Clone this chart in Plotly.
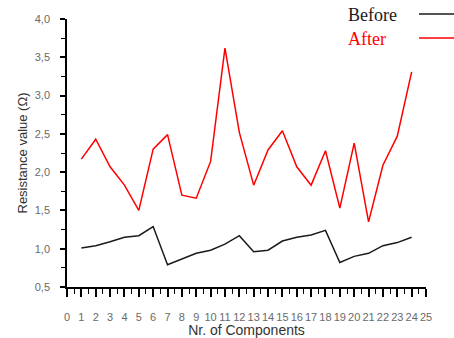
import plotly.graph_objects as go

# Component numbers and measured resistance (Ω) before / after treatment
components = list(range(1, 25))
before = [1.01, 1.04, 1.09, 1.15, 1.17, 1.29, 0.79, 0.86, 0.94, 0.98, 1.06, 1.17,
          0.96, 0.98, 1.10, 1.15, 1.18, 1.24, 0.82, 0.90, 0.94, 1.04, 1.08, 1.15]
after = [2.17, 2.43, 2.07, 1.83, 1.50, 2.30, 2.49, 1.70, 1.66, 2.14, 3.62, 2.52,
         1.83, 2.29, 2.54, 2.07, 1.83, 2.28, 1.53, 2.38, 1.35, 2.09, 2.47, 3.31]

x_ticks = list(range(0, 26))
series_names = ["Before", "After"]
series_colors = ["#1a1a1a", "#ff0000"]

fig = go.Figure()
for name, vals, col in zip(series_names, [before, after], series_colors):
    fig.add_trace(go.Scatter(x=components, y=vals, mode="lines", name=name,
                             line=dict(color=col, width=1.5), showlegend=False))

# Legend drawn as text followed by a line sample on its right
plot_w, plot_h = 359.0, 268.0
for i, (name, col) in enumerate(zip(series_names, series_colors)):
    ypos = (287 - (15 + 24 * i)) / plot_h
    fig.add_annotation(xref="paper", yref="paper", x=(346 - 67) / plot_w, y=ypos,
                       text=name, showarrow=False, xanchor="left", yanchor="middle",
                       font=dict(family="Liberation Serif", size=18, color=col))
    fig.add_shape(type="line", xref="paper", yref="paper",
                  x0=(419 - 67) / plot_w, x1=(455 - 67) / plot_w,
                  y0=(287 - (14 + 24 * i)) / plot_h, y1=(287 - (14 + 24 * i)) / plot_h,
                  line=dict(color=col, width=1.5))

tick_font = dict(family="Liberation Sans", size=11, color="#6a6a6a")
fig.update_layout(
    width=454, height=338,
    margin=dict(l=67, r=28, t=19, b=51),
    paper_bgcolor="white", plot_bgcolor="white",
    separators=",.",
    xaxis=dict(range=[0, 25], tickmode="array", tickvals=x_ticks,
               ticktext=[str(v) for v in x_ticks], tickangle=0, automargin=False,
               showgrid=False, zeroline=False, showline=True, linecolor="black",
               linewidth=1.5, ticks="outside", ticklen=8, tickwidth=1.5,
               tickcolor="black", tickfont=tick_font, ticklabelstandoff=11,
               minor=dict(dtick=0.5, ticks="outside", ticklen=5, tickwidth=1.2,
                          tickcolor="black", showgrid=False),
               title=dict(text="Nr. of Components", standoff=5,
                          font=dict(family="Liberation Sans", size=14, color="#333"))),
    yaxis=dict(range=[0.5, 4.0], tickmode="linear", tick0=0.5, dtick=0.5,
               tickformat=".1f", showgrid=False, zeroline=False, showline=True,
               linecolor="black", linewidth=1.5, ticks="outside", ticklen=5,
               tickwidth=1.5, tickcolor="black", tickfont=tick_font,
               ticklabelstandoff=8, automargin=False,
               minor=dict(dtick=0.25, ticks="outside", ticklen=4, tickwidth=1.2,
                          tickcolor="black", showgrid=False),
               title=dict(text="Resistance value (Ω)", standoff=4,
                          font=dict(family="Liberation Sans", size=13, color="#333"))),
)

fig.write_html("out.html")
